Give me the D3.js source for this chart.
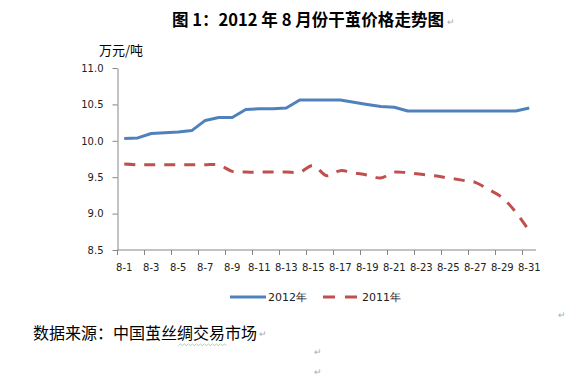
<!DOCTYPE html>
<html><head><meta charset="utf-8">
<script src="https://cdn.jsdelivr.net/npm/d3@7"></script>
<style>
html,body{margin:0;padding:0;background:#fff;}
svg{display:block;}
</style></head>
<body>
<svg id="c" width="588" height="382"></svg>
<script>
const categories = ["8-1","8-2","8-3","8-4","8-5","8-6","8-7","8-8","8-9","8-10","8-11","8-12","8-13","8-14","8-15","8-16","8-17","8-18","8-19","8-20","8-21","8-22","8-23","8-24","8-25","8-26","8-27","8-28","8-29","8-30","8-31"];
const values2012 = [10.03,10.04,10.10,10.11,10.12,10.14,10.28,10.32,10.32,10.43,10.44,10.44,10.45,10.56,10.56,10.56,10.56,10.53,10.50,10.47,10.46,10.41,10.41,10.41,10.41,10.41,10.41,10.41,10.41,10.41,10.45];
const values2011 = [9.68,9.67,9.67,9.67,9.67,9.67,9.67,9.67,9.58,9.57,9.57,9.57,9.57,9.57,9.66,9.52,9.59,9.56,9.53,9.49,9.57,9.56,9.54,9.52,9.49,9.46,9.43,9.33,9.22,9.02,8.76];
const yTicks = [8.5,9.0,9.5,10.0,10.5,11.0];
const seriesNames = ["2012年","2011年"];
const titleText = "图 1：2012 年 8 月份干茧价格走势图";
const unitText = "万元/吨";
const sourceText = "数据来源：中国茧丝绸交易市场";

const svg = d3.select("#c");
const blue = "#4F81BD", red = "#C0504D", axisCol = "#868686";
const tickFont = "'DejaVu Sans', sans-serif";
const cjk = "'Noto Sans CJK SC', sans-serif";

const x = d3.scaleBand().domain(categories).range([117.5, 536]).paddingInner(0).paddingOuter(0);
const y = d3.scaleLinear().domain([8.5, 11]).range([250, 68]);

// title
svg.append("text").attr("x", 172).attr("y", 26).attr("font-family", cjk).attr("font-weight", "bold")
  .attr("font-size", 16.5).attr("fill", "#000").attr("textLength", 272).attr("lengthAdjust", "spacingAndGlyphs").text(titleText);
svg.append("text").attr("x", 447).attr("y", 25).attr("font-family", cjk).attr("font-size", 9).attr("fill", "#aaa").text("↵");

// unit
svg.append("text").attr("x", 99).attr("y", 55).attr("font-family", cjk).attr("font-size", 13).attr("fill", "#000").text(unitText);

// y axis
const yAxis = svg.append("g").attr("transform", "translate(117.5,0)")
  .call(d3.axisLeft(y).tickValues(yTicks).tickFormat(d3.format(".1f")).tickSize(5).tickSizeOuter(0).tickPadding(9));
yAxis.select(".domain").attr("stroke", axisCol);
yAxis.selectAll(".tick line").attr("stroke", axisCol);
yAxis.selectAll(".tick text").attr("font-family", tickFont).attr("font-size", 10).attr("fill", "#222");

// x axis
const labelCats = categories.filter((d, i) => i % 2 === 0);
const xAxis = svg.append("g").attr("transform", "translate(0,250)")
  .call(d3.axisBottom(x).tickValues(labelCats).tickSize(0).tickPadding(14));
xAxis.select(".domain").attr("stroke", axisCol).attr("d", `M${x.range()[0]},0H${x.range()[1]}`);
xAxis.selectAll(".tick text").attr("font-family", tickFont).attr("font-size", 10).attr("fill", "#222");
xAxis.selectAll(".tickmark").data(labelCats).enter().append("line")
  .attr("x1", d => x(d)).attr("x2", d => x(d)).attr("y1", 0).attr("y2", 5).attr("stroke", axisCol);

const cx = d => x(d) + x.bandwidth() / 2;
const line2012 = d3.line().x((d, i) => cx(categories[i])).y(d => y(d));
const line2011 = d3.line().x((d, i) => cx(categories[i])).y(d => y(d)).curve(d3.curveCatmullRom.alpha(0.5));

svg.append("path").datum(values2011).attr("d", line2011).attr("fill", "none").attr("stroke", red)
  .attr("stroke-width", 3).attr("stroke-dasharray", "11,9").attr("stroke-linejoin", "round");
svg.append("path").datum(values2012).attr("d", line2012).attr("fill", "none").attr("stroke", blue)
  .attr("stroke-width", 3).attr("stroke-linejoin", "round");

// legend
const lg = svg.append("g");
lg.append("line").attr("x1", 230).attr("x2", 266).attr("y1", 297).attr("y2", 297).attr("stroke", blue).attr("stroke-width", 3);
lg.append("text").attr("x", 268).attr("y", 301).attr("font-family", tickFont).attr("font-size", 11).attr("fill", "#222").text(seriesNames[0]);
lg.append("line").attr("x1", 323).attr("x2", 357).attr("y1", 297).attr("y2", 297).attr("stroke", red).attr("stroke-width", 3).attr("stroke-dasharray", "12,10");
lg.append("text").attr("x", 362).attr("y", 301).attr("font-family", tickFont).attr("font-size", 11).attr("fill", "#222").text(seriesNames[1]);

// source
svg.append("text").attr("x", 33).attr("y", 339).attr("font-family", cjk).attr("font-size", 16).attr("fill", "#000").text(sourceText);
svg.append("path").attr("d", d3.range(0, 50, 2).map((v, i) => `${i ? "L" : "M"}${178.5 + v},${i % 2 ? 344 : 345.5}`).join(""))
  .attr("fill", "none").attr("stroke", "#5cb85c").attr("stroke-width", 0.8).attr("opacity", 0.7);
const marks = [[259, 337], [558, 318], [314, 355], [314, 375]];
svg.selectAll(".pm").data(marks).enter().append("text").attr("x", d => d[0]).attr("y", d => d[1])
  .attr("font-family", cjk).attr("font-size", 9).attr("fill", "#aaa").text("↵");
</script>
</body></html>
